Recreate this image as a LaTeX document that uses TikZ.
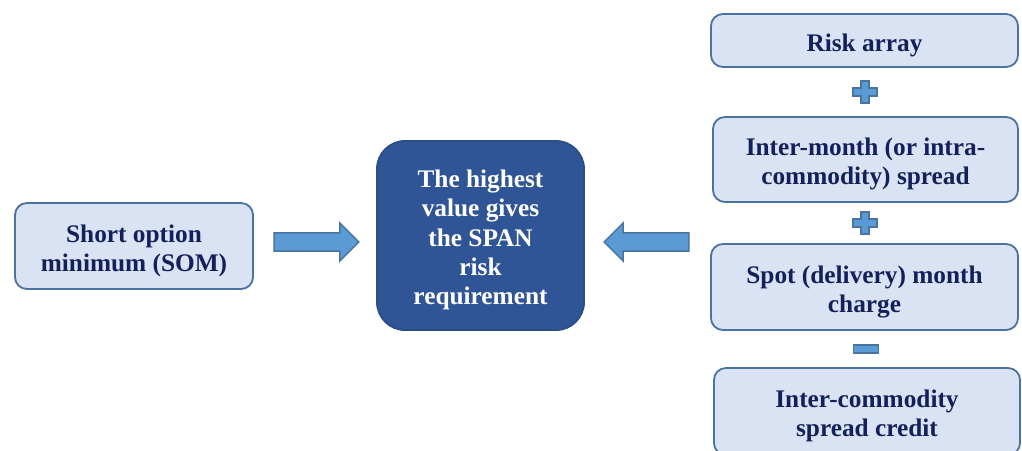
\documentclass[tikz,border=0pt]{standalone}
\usepackage{fontspec}
\setmainfont{Liberation Serif}
\usepackage{xcolor}
\usepackage{tikz}
\usetikzlibrary{positioning}
\usetikzlibrary{calc}
\usetikzlibrary{shapes.arrows}
\definecolor{boxfill}{HTML}{DAE3F3}
\definecolor{boxline}{HTML}{4A73A0}
\definecolor{darkfill}{HTML}{2F5597}
\definecolor{darkline}{HTML}{2A4E88}
\definecolor{arrowfill}{HTML}{5B9BD5}
\definecolor{navytext}{HTML}{13205A}
\tikzset{
    lightbox/.style = {rectangle, rounded corners=0.3cm, draw=boxline, fill=boxfill, line width=1.3pt, inner sep=0pt},
    darkbox/.style = {rectangle, rounded corners=0.7cm, draw=darkline, fill=darkfill, line width=1.3pt, inner sep=0pt},
    lighttext/.style = {align=center, text=navytext, font=\fontsize{18}{20.8}\selectfont\bfseries, inner sep=0pt, yshift=-3.3pt},
    darktext/.style = {align=center, text=white, font=\fontsize{18}{20.8}\selectfont\bfseries, inner sep=0pt, yshift=-3.3pt},
    blockarrow/.style = {single arrow, draw=boxline, fill=arrowfill, line width=1pt, minimum height=2.12cm, minimum width=0.9cm, inner sep=0.21cm, single arrow tip angle=90},
    plussign/.pic = {\filldraw[draw=boxline, fill=arrowfill, line width=0.8pt] (-4,-11) -- (4,-11) -- (4,-4) -- (12,-4) -- (12,4) -- (4,4) -- (4,11) -- (-4,11) -- (-4,4) -- (-12,4) -- (-12,-4) -- (-4,-4) -- cycle;},
    minussign/.pic = {\filldraw[draw=boxline, fill=arrowfill, line width=0.8pt] (-12.5,-4) rectangle (12.5,4);}
}

\begin{document}
\begin{tikzpicture}[x=0.025cm, y=-0.025cm]
  \path[use as bounding box, clip] (0,0) rectangle (1022,450);
  % left and centre
  \node[lightbox, minimum width=5.95cm, minimum height=2.15cm,
        label={[lighttext]center:Short option\\minimum (SOM)}] (som) at (134,246) {};
  \node[darkbox, minimum width=5.175cm, minimum height=4.725cm,
        label={[darktext]center:The highest\\value gives\\the SPAN\\risk\\requirement}] (span) at (480.5,235.5) {};
  % right column
  \node[lightbox, minimum width=7.675cm, minimum height=1.325cm,
        label={[lighttext]center:Risk array}] (risk) at (864.5,40.5) {};
  \node[lightbox, minimum width=7.625cm, minimum height=2.125cm,
        label={[lighttext]center:Inter-month (or intra-\\commodity) spread}] (inter) at (865.5,159.5) {};
  \node[lightbox, minimum width=7.675cm, minimum height=2.15cm,
        label={[lighttext]center:Spot (delivery) month\\charge}] (spot) at (864.5,287) {};
  \node[lightbox, minimum width=7.65cm, minimum height=2.175cm,
        label={[lighttext]center:Inter-commodity\\spread credit}] (credit) at (867,411.5) {};
  % arrows
  \node[blockarrow] (arrsom) at (312,242) {};
  \node[blockarrow, shape border rotate=180] (arrright) at (651,242) {};
  % signs
  \pic at ($(risk.south)!0.5!(inter.north)$) {plussign};
  \pic at ($(inter.south)!0.5!(spot.north)$) {plussign};
  \pic at ($(spot.south)!0.5!(credit.north)$) {minussign};
\end{tikzpicture}
\end{document}
